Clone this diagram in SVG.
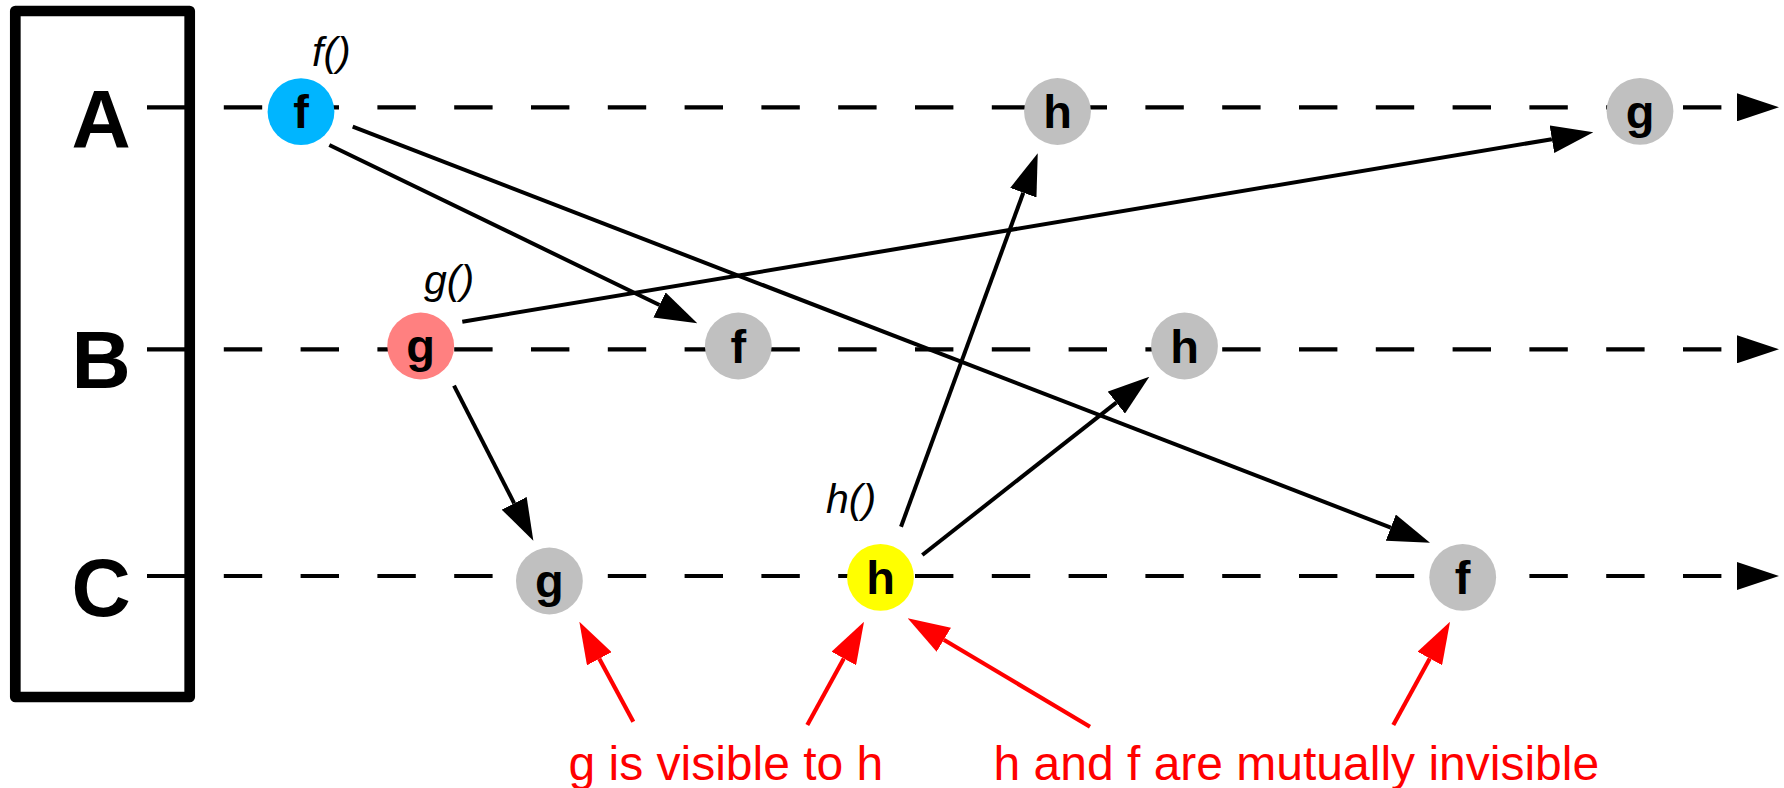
<svg xmlns="http://www.w3.org/2000/svg" width="1784" height="788" viewBox="0 0 1784 788">
<style>
.lane{stroke:#000;stroke-width:4.2;stroke-dasharray:38.4 38.4;fill:none}
.conn{stroke:#000;stroke-width:4;fill:none}
.red{stroke:#ff0000;stroke-width:4.2;fill:none}
.lbl{font-family:"Liberation Sans",Arial,sans-serif;font-weight:bold;font-size:82px;text-anchor:middle;fill:#000}
.nt{font-family:"Liberation Sans",Arial,sans-serif;font-weight:bold;font-size:47px;text-anchor:middle;fill:#000}
.fn{font-family:"Liberation Sans",Arial,sans-serif;font-style:italic;font-size:41px;fill:#000}
.note{font-family:"Liberation Sans",Arial,sans-serif;font-size:48px;fill:#ff0000}
.gray{fill:#c0c0c0}
</style>
<defs>
<marker id="ah" markerUnits="userSpaceOnUse" markerWidth="42" markerHeight="28" viewBox="0 0 42 28" refX="0" refY="14" orient="auto"><path d="M0,0 L42,14 L0,28 z" fill="#000"/></marker>
<marker id="ahr" markerUnits="userSpaceOnUse" markerWidth="42" markerHeight="28" viewBox="0 0 42 28" refX="0" refY="14" orient="auto"><path d="M0,0 L42,14 L0,28 z" fill="#ff0000"/></marker>
</defs>
<rect width="1784" height="788" fill="#fff"/>
<g id="lanes">
<line class="lane" x1="147" y1="107.3" x2="1737" y2="107.3" marker-end="url(#ah)"/>
<line class="lane" x1="147" y1="349.3" x2="1737" y2="349.3" marker-end="url(#ah)"/>
<line class="lane" x1="147" y1="576" x2="1737" y2="576" marker-end="url(#ah)"/>
</g>
<g id="box">
<rect x="15.3" y="11" width="174.4" height="686" fill="none" stroke="#000" stroke-width="10.7" stroke-linejoin="round"/>
<text class="lbl" x="101" y="146.7">A</text>
<text class="lbl" x="101" y="388.3">B</text>
<text class="lbl" x="101" y="615.5">C</text>
</g>
<g id="connectors">
<line class="conn" x1="329.3" y1="145" x2="659.5" y2="305" marker-end="url(#ah)"/>
<line class="conn" x1="352.7" y1="126.7" x2="1390.8" y2="527.6" marker-end="url(#ah)"/>
<line class="conn" x1="462.3" y1="321.7" x2="1551.9" y2="139.2" marker-end="url(#ah)"/>
<line class="conn" x1="454" y1="385.7" x2="514.2" y2="503.3" marker-end="url(#ah)"/>
<line class="conn" x1="901" y1="526.7" x2="1023.3" y2="192.7" marker-end="url(#ah)"/>
<line class="conn" x1="922.3" y1="555" x2="1116.3" y2="402.6" marker-end="url(#ah)"/>
<line class="red" x1="633.3" y1="721.7" x2="599.3" y2="658.7" marker-end="url(#ahr)"/>
<line class="red" x1="807.3" y1="725" x2="843.8" y2="658.5" marker-end="url(#ahr)"/>
<line class="red" x1="1090" y1="726.7" x2="943.8" y2="639.8" marker-end="url(#ahr)"/>
<line class="red" x1="1393.3" y1="725" x2="1429.8" y2="658.5" marker-end="url(#ahr)"/>
</g>
<g id="node-A-f"><circle cx="301" cy="111.7" r="33.4" fill="#00b5ff"/><text class="nt" x="301" y="128.2">f</text></g>
<g id="node-A-h"><circle class="gray" cx="1057.5" cy="111.5" r="33.4"/><text class="nt" x="1057.5" y="128">h</text></g>
<g id="node-A-g"><circle class="gray" cx="1640" cy="111.3" r="33.4"/><text class="nt" x="1640" y="127.8">g</text></g>
<g id="node-B-g"><circle cx="420.7" cy="346" r="33.4" fill="#ff8080"/><text class="nt" x="420.7" y="362">g</text></g>
<g id="node-B-f"><circle class="gray" cx="738.3" cy="346" r="33.4"/><text class="nt" x="738.3" y="362.5">f</text></g>
<g id="node-B-h"><circle class="gray" cx="1184.5" cy="346" r="33.4"/><text class="nt" x="1184.5" y="362.5">h</text></g>
<g id="node-C-g"><circle class="gray" cx="549.4" cy="581" r="33.4"/><text class="nt" x="549.4" y="597">g</text></g>
<g id="node-C-h"><circle cx="880.5" cy="577.3" r="33.4" fill="#ffff00"/><text class="nt" x="880.5" y="593.8">h</text></g>
<g id="node-C-f"><circle class="gray" cx="1462.7" cy="577.3" r="33.4"/><text class="nt" x="1462.7" y="593.8">f</text></g>
<g id="labels">
<text class="fn" x="312" y="66.3">f()</text>
<text class="fn" x="424" y="294">g()</text>
<text class="fn" x="826" y="513">h()</text>
<text class="note" x="568.5" y="780">g is visible to h</text>
<text class="note" x="993.5" y="780">h and f are mutually invisible</text>
</g>
</svg>
